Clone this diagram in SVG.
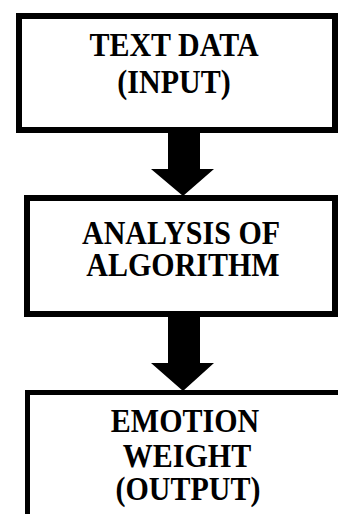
<svg xmlns="http://www.w3.org/2000/svg" width="338" height="514" viewBox="0 0 338 514">
  <style>
    .box { fill: #ffffff; stroke: #000000; stroke-width: 6; }
    .label { font-family: "Liberation Serif", "Times New Roman", serif; font-weight: bold; font-size: 30px; fill: #000000; text-anchor: middle; }
    .flow { fill: #000000; stroke: none; }
  </style>
  <rect width="338" height="514" fill="#ffffff"/>

  <g id="connectors">
    <!-- block arrow: text data to analysis -->
    <polygon class="flow" points="168,133 200,133 200,169 214,169 183,196 151,169 168,169"/>
    <!-- block arrow: analysis to emotion weight -->
    <polygon class="flow" points="168,317 200,317 200,363 214,363 183,391 151,363 168,363"/>
  </g>

  <g id="node-text-data">
    <rect class="box" x="19" y="16" width="316" height="114"/>
    <text class="label" transform="translate(174,56) scale(1,1.12)">TEXT DATA</text>
    <text class="label" transform="translate(174,93) scale(1,1.12)">(INPUT)</text>
  </g>

  <g id="node-analysis">
    <rect class="box" x="27" y="198" width="308" height="116"/>
    <text class="label" transform="translate(181,244) scale(1,1.12)">ANALYSIS OF</text>
    <text class="label" transform="translate(183,276) scale(1,1.12)">ALGORITHM</text>
  </g>

  <g id="node-emotion-weight">
    <rect class="box" x="27.5" y="392.5" width="320" height="140" style="stroke-width:5"/>
    <text class="label" transform="translate(185,432) scale(1,1.12)">EMOTION</text>
    <text class="label" transform="translate(187,467) scale(1,1.12)">WEIGHT</text>
    <text class="label" transform="translate(188,500) scale(1,1.12)">(OUTPUT)</text>
  </g>
</svg>
